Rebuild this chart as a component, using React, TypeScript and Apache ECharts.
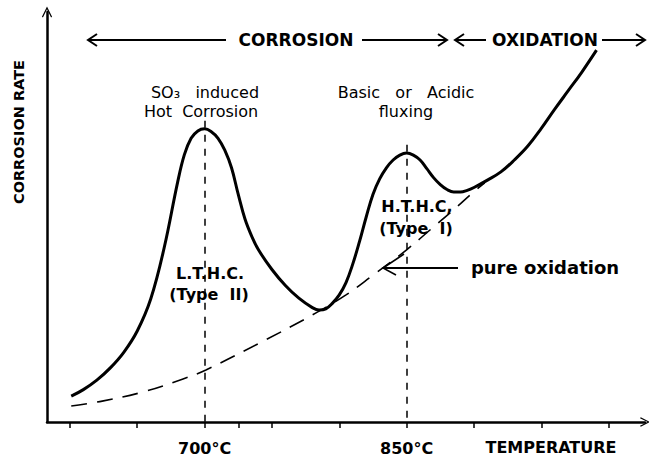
import React, { useEffect, useRef } from "react";
import * as echarts from "echarts";

// Solid curve: corrosion rate vs temperature (arbitrary units)
const temps = [601, 610, 620, 630, 640, 650, 660, 670, 680, 685, 690, 695, 700, 705, 710, 715, 720, 725, 730, 735, 740, 750, 760, 770, 780, 785, 790, 795, 800, 805, 810, 815, 820, 825, 830, 835, 840, 845, 850, 855, 860, 865, 870, 875, 880, 885, 890, 895, 900, 910, 920, 930, 940, 950, 960, 970, 980, 991];
const corrosionRate = [6.3, 7.9, 10.2, 13.2, 17.0, 22.2, 30.0, 42.5, 58.5, 65.2, 69.2, 71.0, 71.5, 70.8, 69.2, 66.3, 62.0, 55.5, 49.5, 45.3, 42.0, 37.2, 33.3, 30.2, 27.9, 27.3, 27.6, 29.0, 31.0, 34.0, 38.5, 44.0, 50.0, 55.5, 59.3, 62.0, 63.9, 65.1, 65.6, 65.1, 63.9, 61.8, 59.6, 57.9, 56.7, 56.1, 56.1, 56.5, 57.2, 59.0, 61.0, 63.9, 67.3, 71.6, 76.3, 80.8, 85.3, 90.7];

// Dashed curve: pure oxidation
const oxTemps = [601, 624, 654, 684, 701, 741, 780, 805, 825, 850, 869, 884, 899, 908];
const pureOxidation = [3.9, 5.1, 7.3, 10.5, 12.7, 19.3, 26.1, 31.0, 35.8, 42.0, 47.3, 51.5, 55.9, 58.3];

// Axis ticks and labels
const tickValues = [600, 650, 700, 725, 750, 800, 850, 900, 950, 1000];
const labelValues = [700, 850];
// Vertical reference lines: [temperature, top value]
const refLines = [
  [700, 73.5],
  [850, 67.6],
];

const FONT = "DejaVu Sans";

function chevron(x: number, y: number, dir: number) {
  return {
    type: "polyline",
    shape: { points: [[x - dir * 9, y - 6], [x, y], [x - dir * 9, y + 6]] },
    style: { stroke: "#000", lineWidth: 2, fill: null },
  };
}
function hline(x1: number, x2: number, y: number) {
  return { type: "line", shape: { x1, y1: y, x2, y2: y }, style: { stroke: "#000", lineWidth: 2 } };
}
function txt(text: string, x: number, y: number, size: number, bold: boolean, extra: any = {}) {
  return {
    type: "text",
    x,
    y,
    ...extra,
    style: {
      text,
      align: "center",
      verticalAlign: "middle",
      fontSize: size,
      fontWeight: bold ? "bold" : "normal",
      fontFamily: FONT,
      fill: "#000",
    },
  };
}

const arrowPath = "path://M0,10 L5,0 L10,10 L9,10.8 L5,2.6 L1,10.8 Z";

export default function App() {
  const ref = useRef<HTMLDivElement>(null);
  useEffect(() => {
    if (!ref.current) return;
    const chart = echarts.init(ref.current, null, { renderer: "svg" });
    chart.setOption({
      animation: false,
      backgroundColor: "#fff",
      grid: { left: 47, right: 4, top: 12, bottom: 37, containLabel: false, outerBoundsMode: "none" },
      xAxis: {
        type: "value",
        min: 583,
        max: 1027,
        splitLine: { show: false },
        axisLine: {
          show: true,
          onZero: false,
          lineStyle: { color: "#000", width: 2.5 },
          symbol: ["none", arrowPath],
          symbolSize: [12, 10],
        },
        axisTick: {
          show: true,
          inside: false,
          length: 6,
          customValues: tickValues,
          lineStyle: { color: "#000", width: 1.5 },
        },
        axisLabel: {
          show: true,
          customValues: labelValues,
          formatter: (v: number) => `${v}°C`,
          margin: 18,
          fontSize: 16,
          fontWeight: "bold",
          fontFamily: FONT,
          color: "#000",
        },
      },
      yAxis: {
        type: "value",
        min: 0,
        max: 100,
        splitLine: { show: false },
        axisLine: {
          show: true,
          lineStyle: { color: "#000", width: 2.5 },
          symbol: ["none", arrowPath],
          symbolSize: [13, 11],
        },
        axisTick: { show: false },
        axisLabel: { show: false },
      },
      series: [
        {
          type: "line",
          data: temps.map((t, i) => [t, corrosionRate[i]]),
          smooth: 0.4,
          symbol: "none",
          lineStyle: { color: "#000", width: 3 },
          markLine: {
            silent: true,
            symbol: ["none", "none"],
            label: { show: false },
            lineStyle: { color: "#000", width: 1.5, type: [7, 7] },
            data: refLines.map(([t, top]) => [{ coord: [t, top] }, { coord: [t, 0] }]),
          },
        },
        {
          type: "line",
          data: oxTemps.map((t, i) => [t, pureOxidation[i]]),
          smooth: 0.4,
          symbol: "none",
          lineStyle: { color: "#000", width: 1.6, type: [16, 10] },
        },
      ],
      graphic: [
        // top range arrows
        hline(88, 226, 40),
        chevron(88, 40, -1),
        hline(362, 446, 40),
        chevron(447, 40, 1),
        txt("CORROSION", 296, 40, 17, true),
        hline(455, 486, 40),
        chevron(455, 40, -1),
        txt("OXIDATION", 545, 40, 17, true),
        hline(602, 644, 40),
        chevron(645, 40, 1),
        // y axis name
        txt("CORROSION RATE", 19, 132, 14.5, true, { rotation: Math.PI / 2 }),
        // x axis name
        txt("TEMPERATURE", 551, 447, 16, true),
        // peak annotations
        txt("SO₃   induced", 205, 92, 16, false),
        txt("Hot  Corrosion", 201, 111, 16, false),
        txt("Basic   or   Acidic", 406, 92, 16, false),
        txt("fluxing", 406, 111, 16, false),
        txt("L.T.H.C.", 210, 273, 16, true),
        txt("(Type  II)", 209, 294, 16, true),
        txt("H.T.H.C,", 417, 206, 16, true),
        txt("(Type  I)", 416, 228, 16, true),
        // pure oxidation pointer
        txt("pure oxidation", 545, 267, 18, true),
        { type: "line", shape: { x1: 383, y1: 268, x2: 458, y2: 268 }, style: { stroke: "#000", lineWidth: 2 } },
        {
          type: "polyline",
          shape: { points: [[404, 254], [383, 268], [396, 275]] },
          style: { stroke: "#000", lineWidth: 1.6, fill: null },
        },
      ],
    });
    return () => chart.dispose();
  }, []);
  return (
    <div
      ref={ref}
      style={{ position: "absolute", left: 0, top: 0, width: 649, height: 459, background: "#fff" }}
    />
  );
}
